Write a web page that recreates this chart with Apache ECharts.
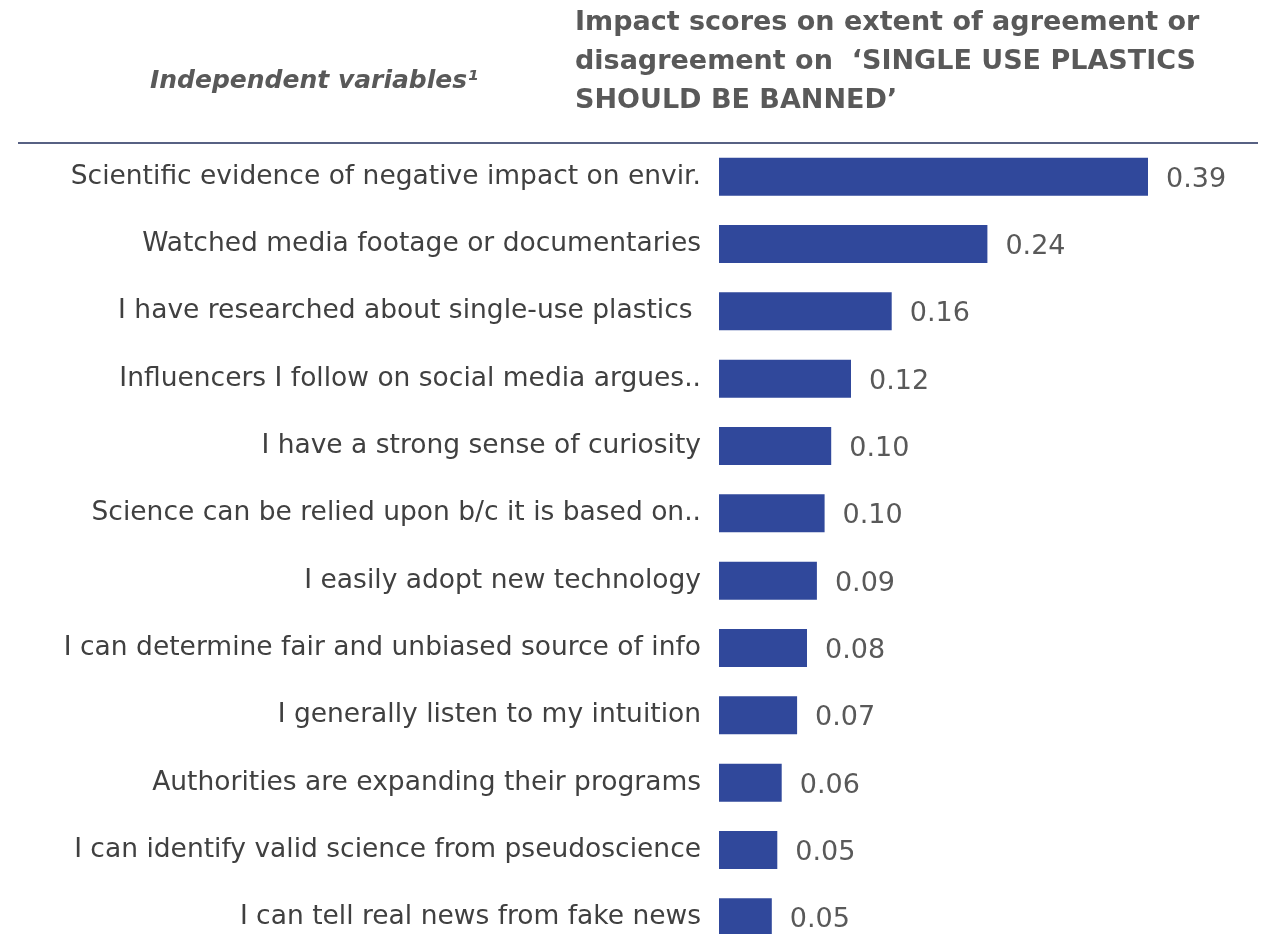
<!DOCTYPE html>
<html>
<head>
<meta charset="utf-8">
<script src="https://cdn.jsdelivr.net/npm/echarts@6/dist/echarts.min.js"></script>
<style>
  html, body { margin: 0; padding: 0; background: #fff; }
  #myChart { width: 1268px; height: 934px; }
</style>
</head>
<body>
<div id="myChart"></div>
<script>
// categories, top to bottom
var categories = [
  'Scientific evidence of negative impact on envir.',
  'Watched media footage or documentaries',
  'I have researched about single-use plastics ',
  'Influencers I follow on social media argues..',
  'I have a strong sense of curiosity',
  'Science can be relied upon b/c it is based on..',
  'I easily adopt new technology',
  'I can determine fair and unbiased source of info',
  'I generally listen to my intuition',
  'Authorities are expanding their programs',
  'I can identify valid science from pseudoscience',
  'I can tell real news from fake news'
];
// impact scores (bar lengths)
var scores = [0.39, 0.244, 0.157, 0.12, 0.102, 0.096, 0.089, 0.080, 0.071, 0.057, 0.053, 0.048];

var leftTitle = 'Independent variables¹';
var rightTitle = 'Impact scores on extent of agreement or\ndisagreement on  \u2018SINGLE USE PLASTICS\nSHOULD BE BANNED\u2019';

var myChart = echarts.init(document.getElementById('myChart'));
myChart.setOption({
  animation: false,
  title: [
    {
      text: leftTitle,
      left: 150, top: 69, padding: 0,
      textStyle: { fontFamily: 'DejaVu Sans', fontStyle: 'italic', fontWeight: 'bold', fontSize: 25, color: '#595959' }
    },
    {
      text: rightTitle,
      left: 575, top: 3, padding: 0,
      textStyle: { fontFamily: 'DejaVu Sans', fontWeight: 'bold', fontSize: 27, lineHeight: 39, color: '#595959' }
    }
  ],
  graphic: [{
    type: 'line',
    shape: { x1: 18, y1: 143, x2: 1258, y2: 143 },
    style: { stroke: '#1f2d5a', lineWidth: 1.5 }
  }],
  grid: { left: 719, top: 143, width: 495, height: 808, outerBoundsMode: 'none' },
  xAxis: {
    type: 'value', min: 0, max: 0.45,
    show: false
  },
  yAxis: {
    type: 'category',
    inverse: true,
    data: categories,
    axisLine: { show: false },
    axisTick: { show: false },
    axisLabel: { margin: 18, fontFamily: 'DejaVu Sans', fontSize: 26.5, color: '#404040' }
  },
  series: [{
    type: 'bar',
    data: scores,
    barWidth: 38,
    itemStyle: { color: '#30489b' },
    label: {
      show: true, position: 'right', distance: 18, offset: [0, 3],
      fontFamily: 'DejaVu Sans', fontSize: 27, color: '#595959',
      formatter: function (p) { return p.value.toFixed(2); }
    }
  }]
});
</script>
</body>
</html>
